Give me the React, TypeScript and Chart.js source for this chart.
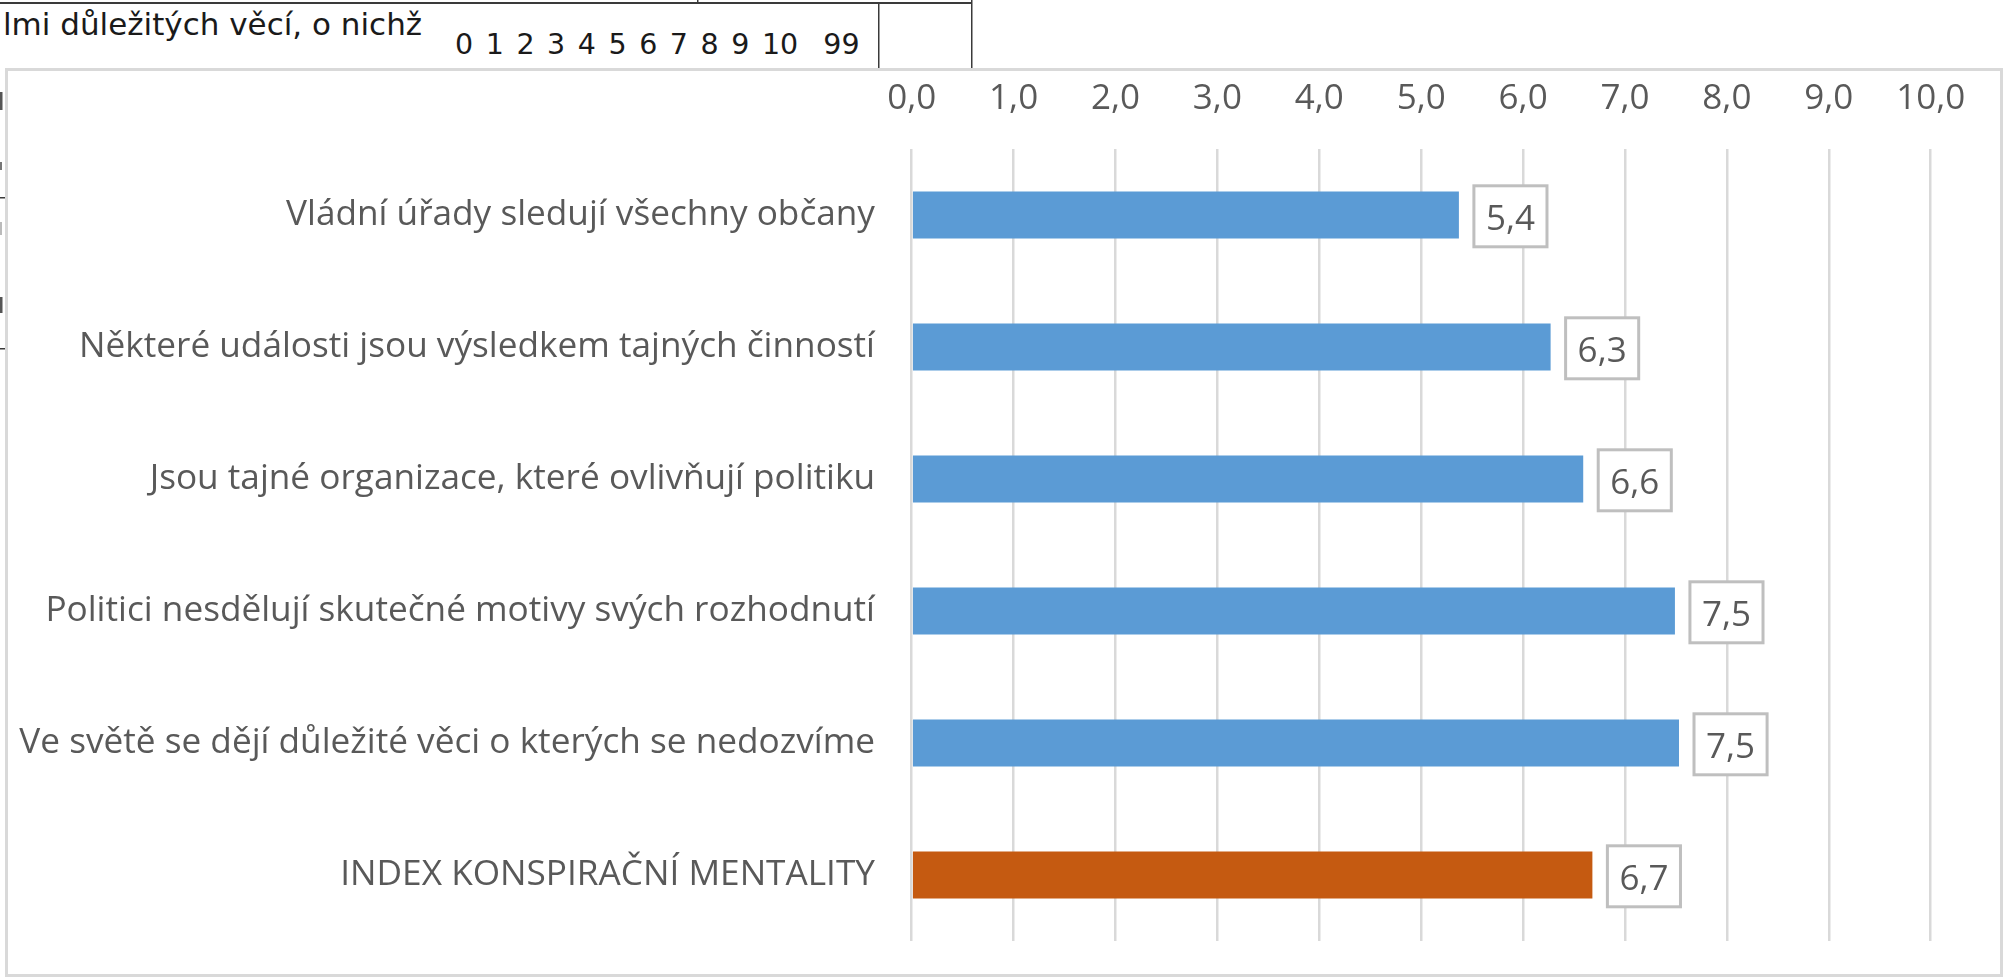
import React, { useEffect, useRef } from "react";
import { Chart, registerables } from "chart.js";

Chart.register(...registerables);

const categories = [
  "Vládní úřady sledují všechny občany",
  "Některé události jsou výsledkem tajných činností",
  "Jsou tajné organizace, které ovlivňují politiku",
  "Politici nesdělují skutečné motivy svých rozhodnutí",
  "Ve světě se dějí důležité věci o kterých se nedozvíme",
  "INDEX KONSPIRAČNÍ MENTALITY",
];
const values = [5.37, 6.27, 6.59, 7.49, 7.53, 6.68];
const valueLabels = ["5,4", "6,3", "6,6", "7,5", "7,5", "6,7"];
const barColors = ["#5B9BD5", "#5B9BD5", "#5B9BD5", "#5B9BD5", "#5B9BD5", "#C55A11"];
const tickLabels = ["0,0", "1,0", "2,0", "3,0", "4,0", "5,0", "6,0", "7,0", "8,0", "9,0", "10,0"];
const sheetText = "lmi důležitých věcí, o nichž";
const sheetScale = "0 1 2 3 4 5 6 7 8 9 10  99";

const FONT = "'Open Sans'";
const GRAY = "#595959";

const boxLabelPlugin = {
  id: "boxLabels",
  afterDatasetsDraw(chart: any) {
    const ctx = chart.ctx;
    const meta = chart.getDatasetMeta(0);
    ctx.save();
    ctx.font = `35px ${FONT}`;
    meta.data.forEach((bar: any, i: number) => {
      const text = valueLabels[i];
      const w = ctx.measureText(text).width;
      const boxW = w + 24;
      const boxH = 61;
      const left = bar.x + 15;
      const top = bar.y - boxH / 2 + 1.3;
      ctx.fillStyle = "#ffffff";
      ctx.fillRect(left, top, boxW, boxH);
      ctx.strokeStyle = "#BFBFBF";
      ctx.lineWidth = 3;
      ctx.strokeRect(left, top, boxW, boxH);
      ctx.fillStyle = GRAY;
      ctx.textAlign = "center";
      ctx.textBaseline = "alphabetic";
      ctx.fillText(text, left + boxW / 2, bar.y + 15);
    });
    ctx.restore();
  },
};

function App() {
  const canvasRef = useRef<HTMLCanvasElement | null>(null);

  useEffect(() => {
    document.body.style.margin = "0";
    const canvas = canvasRef.current;
    if (!canvas) return;
    const chart = new Chart(canvas, {
      type: "bar",
      data: {
        labels: categories,
        datasets: [
          {
            data: values,
            backgroundColor: barColors,
            borderWidth: 0,
            barPercentage: 0.355,
            categoryPercentage: 1,
          },
        ],
      },
      options: {
        indexAxis: "y",
        responsive: false,
        animation: false,
        devicePixelRatio: 1,
        layout: { padding: { left: 0, top: 0, right: 73.3, bottom: 37 } },
        plugins: {
          legend: { display: false },
          tooltip: { enabled: false },
        },
        scales: {
          x: {
            position: "top",
            min: 0,
            max: 10,
            ticks: {
              stepSize: 1,
              color: GRAY,
              font: { family: FONT, size: 35 },
              padding: 28.5,
              maxRotation: 0,
              callback: (v: any) => tickLabels[Math.round(Number(v))],
            },
            grid: { color: "#D9D9D9", lineWidth: 2.5, drawTicks: false },
            border: { display: false },
            afterFit: (s: any) => {
              s.height = 149;
            },
          },
          y: {
            ticks: {
              color: GRAY,
              font: { family: FONT, size: 35.2 },
              padding: 36.7,
            },
            grid: { display: false, drawTicks: false },
            border: { display: false },
            afterFit: (s: any) => {
              s.width = 911.7;
              s.paddingTop = 0;
              s.paddingBottom = 0;
            },
          },
        },
      },
      plugins: [boxLabelPlugin],
    });
    return () => chart.destroy();
  }, []);

  return (
    <div
      style={{
        position: "relative",
        width: 2004,
        height: 978,
        overflow: "hidden",
        background: "#ffffff",
      }}
    >
      <svg
        width={2004}
        height={978}
        style={{ position: "absolute", left: 0, top: 0 }}
      >
        <rect x={0} y={2} width={972} height={2} fill="#3a3a3a" />
        <rect x={697} y={0} width={1.5} height={3} fill="#3a3a3a" />
        <rect x={878} y={3} width={1.5} height={66} fill="#3a3a3a" />
        <rect x={971} y={0} width={1.5} height={68} fill="#3a3a3a" />
        <text x={3} y={35} fontFamily="DejaVu Sans" fontSize={31} fill="#1a1a1a">
          {sheetText}
        </text>
        <text
          x={455}
          y={54}
          fontFamily="DejaVu Sans"
          fontSize={28.5}
          fill="#1a1a1a"
          style={{ wordSpacing: 3.5, whiteSpace: "pre" }}
        >
          {sheetScale}
        </text>
        <rect x={0} y={92} width={2.5} height={18} fill="#555" />
        <rect x={0} y={162} width={2} height={8} fill="#777" />
        <rect x={0} y={197} width={5} height={1.5} fill="#3a3a3a" />
        <rect x={0} y={222} width={2} height={13} fill="#bbb" />
        <rect x={0} y={297} width={2.5} height={16} fill="#555" />
        <rect x={0} y={348} width={5} height={1.5} fill="#3a3a3a" />
      </svg>
      <div
        style={{
          position: "absolute",
          left: 5,
          top: 68,
          width: 1998,
          height: 909,
          boxSizing: "border-box",
          border: "3px solid #D9D9D9",
          background: "#ffffff",
        }}
      />
      <canvas
        ref={canvasRef}
        width={2004}
        height={978}
        style={{ position: "absolute", left: 0, top: 0, display: "block" }}
      />
    </div>
  );
}

export default App;
